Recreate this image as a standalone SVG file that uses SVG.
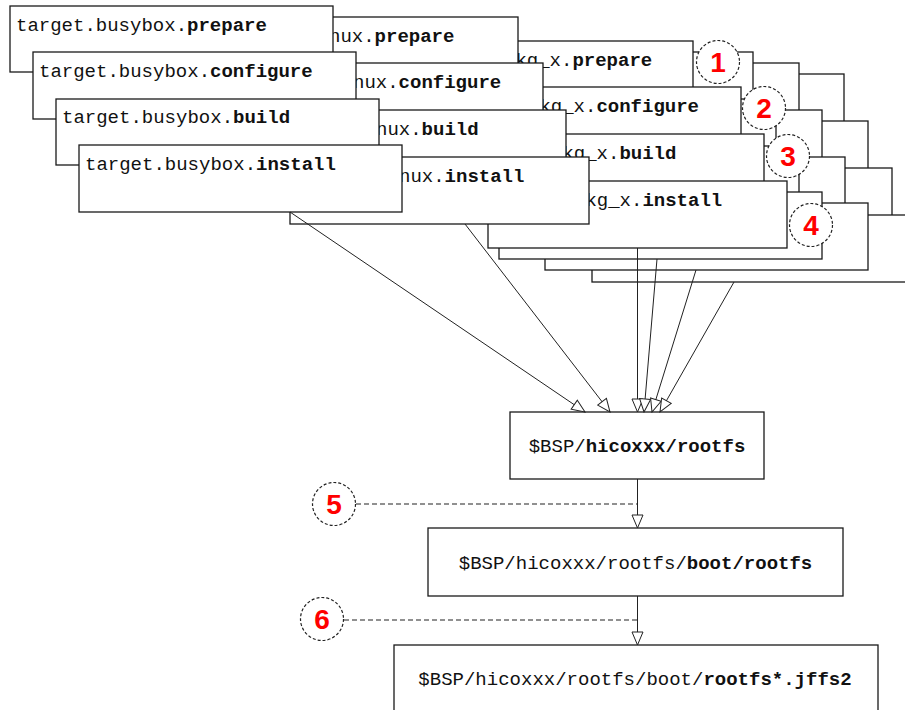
<svg xmlns="http://www.w3.org/2000/svg" width="905" height="710" viewBox="0 0 905 710">
<style>
.box{fill:#fff;stroke:#1a1a1a;stroke-width:1.3}
.lbl{font-family:'Liberation Mono','Courier New',monospace;font-size:19px;fill:#111}
.b{font-weight:bold}
.conn{stroke:#222;stroke-width:1;fill:none;marker-end:url(#ah)}
.dash{stroke:#222;stroke-width:1.2;fill:none;stroke-dasharray:5,3}
.circ{fill:#fff;stroke:#222;stroke-width:1.2;stroke-dasharray:3,2}
.num{font-family:'Liberation Sans',Arial,sans-serif;font-weight:bold;font-size:28px;fill:#f00;text-anchor:middle}
.mid{text-anchor:middle}
</style>
<defs>
<marker id="ah" markerUnits="userSpaceOnUse" markerWidth="15" markerHeight="13" refX="13" refY="5.5" orient="auto" viewBox="-1 -1 15 13">
<path d="M0,0 L13,5.5 L0,11 z" fill="#fff" stroke="#222" stroke-width="1"/>
</marker>
</defs>
<rect width="905" height="710" fill="#fff"/>

<g id="stack4">
<rect class="box" x="521" y="74" width="323" height="67"/>
<rect class="box" x="545" y="121" width="323" height="67"/>
<rect class="box" x="569" y="168" width="323" height="67"/>
<rect class="box" x="592" y="215" width="323" height="67"/>
</g>
<g id="stack3">
<rect class="box" x="476" y="63" width="323" height="67"/>
<rect class="box" x="499" y="110" width="323" height="67"/>
<rect class="box" x="522" y="157" width="323" height="67"/>
<rect class="box" x="545" y="203" width="323" height="67"/>
</g>
<g id="stack2">
<rect class="box" x="430" y="52" width="323" height="67"/>
<rect class="box" x="453" y="99" width="323" height="67"/>
<rect class="box" x="476" y="146" width="323" height="67"/>
<rect class="box" x="499" y="192" width="323" height="67"/>
</g>

<g id="pkg_x.prepare"><rect class="box" x="418" y="41" width="275" height="67"/><text class="lbl" x="515.4" y="66">kg_x.<tspan class="b">prepare</tspan></text></g>
<g id="pkg_x.configure"><rect class="box" x="442" y="87" width="299" height="67"/><text class="lbl" x="539.4" y="112">kg_x.<tspan class="b">configure</tspan></text></g>
<g id="pkg_x.build"><rect class="box" x="465" y="134" width="299" height="67"/><text class="lbl" x="562.4" y="159">kg_x.<tspan class="b">build</tspan></text></g>
<g id="pkg_x.install"><rect class="box" x="488" y="181" width="299" height="67"/><text class="lbl" x="585.4" y="206">kg_x.<tspan class="b">install</tspan></text></g>

<g id="linux.prepare"><rect class="box" x="220" y="17" width="298" height="67"/><text class="lbl" x="329" y="42">nux.<tspan class="b">prepare</tspan></text></g>
<g id="linux.configure"><rect class="box" x="244" y="63" width="299" height="67"/><text class="lbl" x="353" y="88">nux.<tspan class="b">configure</tspan></text></g>
<g id="linux.build"><rect class="box" x="267" y="110" width="299" height="67"/><text class="lbl" x="376" y="135">nux.<tspan class="b">build</tspan></text></g>
<g id="linux.install"><rect class="box" x="290" y="157" width="299" height="67"/><text class="lbl" x="399" y="182">nux.<tspan class="b">install</tspan></text></g>

<g id="busybox.prepare"><rect class="box" x="10" y="6" width="323" height="66"/><text class="lbl" x="16" y="31">target.busybox.<tspan class="b">prepare</tspan></text></g>
<g id="busybox.configure"><rect class="box" x="33" y="52" width="323" height="67"/><text class="lbl" x="39" y="77">target.busybox.<tspan class="b">configure</tspan></text></g>
<g id="busybox.build"><rect class="box" x="56" y="99" width="323" height="66"/><text class="lbl" x="62" y="123">target.busybox.<tspan class="b">build</tspan></text></g>
<g id="busybox.install"><rect class="box" x="79" y="145" width="323" height="67"/><text class="lbl" x="85" y="170">target.busybox.<tspan class="b">install</tspan></text></g>

<g id="rootfs"><rect class="box" x="510" y="412" width="254" height="67"/><text class="lbl mid" x="637" y="452">$BSP/<tspan class="b">hicoxxx/rootfs</tspan></text></g>
<g id="boot_rootfs"><rect class="box" x="428" y="528" width="415" height="68"/><text class="lbl mid" x="635.5" y="569">$BSP/hicoxxx/rootfs/<tspan class="b">boot/rootfs</tspan></text></g>
<g id="jffs2"><rect class="box" x="394" y="645" width="484" height="80"/><text class="lbl mid" x="635" y="685">$BSP/hicoxxx/rootfs/boot/<tspan class="b">rootfs*.jffs2</tspan></text></g>

<g id="connectors">
<path class="conn" d="M290,212 L585,412"/>
<path class="conn" d="M465,224 L610,412"/>
<path class="conn" d="M637.5,248 L637.5,412"/>
<path class="conn" d="M657,259 L644,412"/>
<path class="conn" d="M696,270 L652,412"/>
<path class="conn" d="M734,282 L660,412"/>
<path class="conn" d="M637.5,479 L637.5,528"/>
<path class="conn" d="M637.5,596 L637.5,645"/>
<path class="dash" d="M356,504 L637,504"/>
<path class="dash" d="M344,620 L637,620"/>
</g>

<g id="marker1"><circle class="circ" cx="718" cy="62" r="21.5"/><text class="num" x="718" y="72">1</text></g>
<g id="marker2"><circle class="circ" cx="764" cy="108" r="21.5"/><text class="num" x="764" y="118">2</text></g>
<g id="marker3"><circle class="circ" cx="788" cy="156" r="21.5"/><text class="num" x="788" y="166">3</text></g>
<g id="marker4"><circle class="circ" cx="811" cy="225" r="21.5"/><text class="num" x="811" y="235">4</text></g>
<g id="marker5"><circle class="circ" cx="334" cy="504" r="21.5"/><text class="num" x="334" y="514">5</text></g>
<g id="marker6"><circle class="circ" cx="322" cy="619" r="21.5"/><text class="num" x="322" y="629">6</text></g>
</svg>
